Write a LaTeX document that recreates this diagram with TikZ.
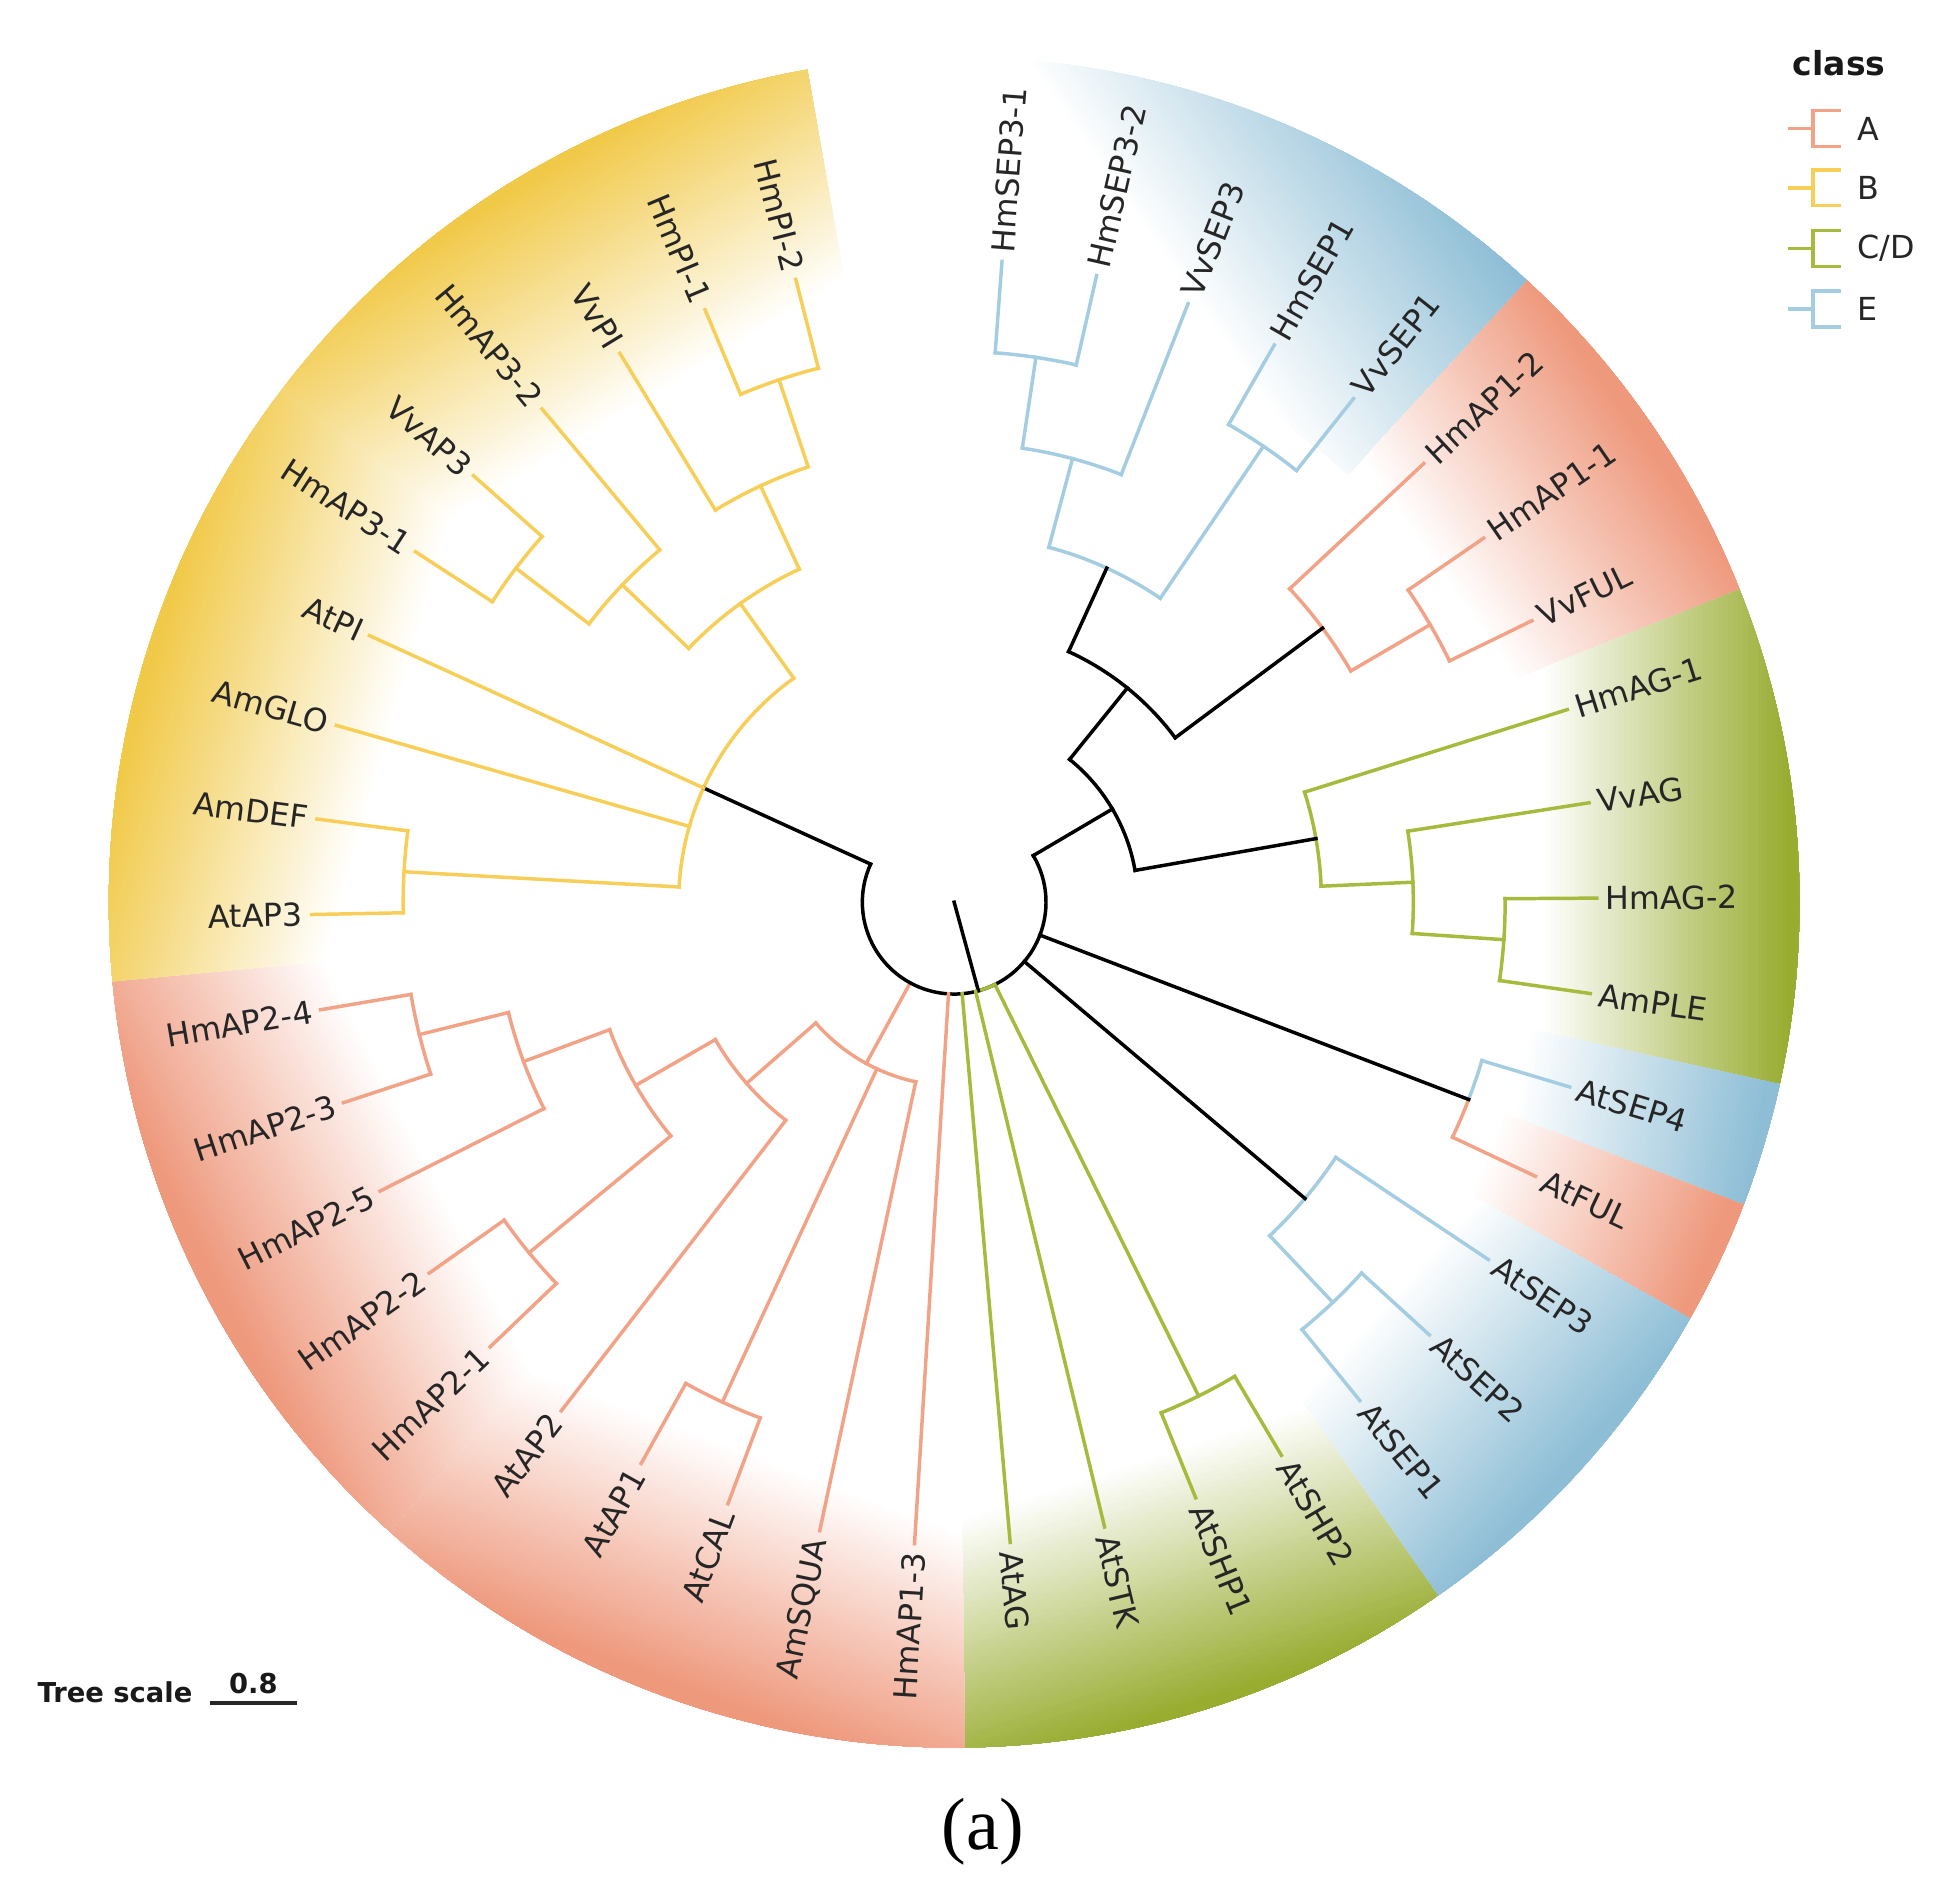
\documentclass[tikz,border=0pt]{standalone}
\usepackage{fontspec}
\setmainfont{DejaVu Sans}
\newfontfamily\capfont{Liberation Serif}

% branch colours of the four classes
\definecolor{classA}{RGB}{242,163,135}
\definecolor{classB}{RGB}{246,206,88}
\definecolor{classCD}{RGB}{166,186,62}
\definecolor{classE}{RGB}{164,205,226}
% colours of the outer ranges
\definecolor{ringA}{RGB}{238,152,124}
\definecolor{ringB}{RGB}{241,201,72}
\definecolor{ringCD}{RGB}{152,172,48}
\definecolor{ringE}{RGB}{142,190,214}

\tikzset{
  branch/.style={line width=0.8pt, line cap=rect},
  leaf/.style={font=\fontsize{7.3}{8}\selectfont, text=black!85, inner sep=1.8pt},
  legtitle/.style={font=\bfseries\fontsize{7.6}{9}\selectfont, text=black!90},
  legitem/.style={font=\fontsize{7.3}{8}\selectfont, text=black!85, anchor=west, inner sep=0pt},
  scalelab/.style={font=\bfseries\fontsize{6.3}{7}\selectfont, text=black!90}
}

\newcommand{\lev}{74.3}
% radial piece of a branch: colour, angle, from level, to level
\newcommand{\radial}[4]{\draw[branch,color=#1] (#2:{#3*\lev}) -- (#2:{#4*\lev});}
% arc of an inner node: colour, level, from angle, to angle
\newcommand{\nodearc}[4]{\draw[branch,color=#1] (#3:{#2*\lev}) arc[start angle=#3, end angle=#4, radius={#2*\lev}];}
% coloured range fading to white: colour, from angle, to angle, direction, start, end
\newcommand{\band}[6]{%
  \begin{scope}
    \clip (#2:470) arc[start angle=#2, end angle=#3, radius=470] -- (#3:684)
      arc[start angle=#3, end angle=#2, radius=684] -- cycle;
    \begin{scope}[rotate=#4]
      \foreach \bandi in {1,...,50}{
        \pgfmathsetmacro\bx{#5+(#6-#5)*(\bandi-1)/50}
        \pgfmathsetmacro\bp{100*\bandi/50}
        \fill[#1!\bp!white] (\bx,-720) rectangle (760,720);
      }
    \end{scope}
  \end{scope}}
\newcommand{\legentry}[3]{%
  \draw[branch,color=#1] (1448,#2) -- (1467,#2) (1488,#2+14.5) -- (1467,#2+14.5) -- (1467,#2-14.5) -- (1488,#2-14.5);
  \node[legitem] (leg#3) at (1502,#2) {#3};}

\begin{document}
\begin{tikzpicture}[x=0.01cm,y=0.01cm]
\useasboundingbox (0,0) rectangle (1568,1528);

\begin{scope}[shift={(772,798)}]
  % ranges
  \band{ringE}{90}{47.317}{35}{440}{665}
  \band{ringA}{47.317}{21.707}{35}{478}{675}
  \band{ringCD}{21.707}{-12.439}{0}{478}{678}
  \band{ringE}{-12.439}{-20.976}{-10}{478}{675}
  \band{ringA}{-20.976}{-29.512}{-22}{478}{675}
  \band{ringE}{-29.512}{-55.122}{-42}{478}{675}
  \band{ringCD}{-55.122}{-89.268}{-72}{478}{680}
  \band{ringA}{-89.268}{-131.951}{-110.61}{478}{675}
  \band{ringA}{-131.951}{-174.634}{-153.29}{478}{675}
  \band{ringB}{-174.634}{-217.317}{-195.98}{478}{680}
  \band{ringB}{-217.317}{-260}{-238.66}{478}{680}

  % class E, top
  \nodearc{classE}{6}{85.732}{77.195}
  \radial{classE}{81.463}{5}{6}
  \nodearc{classE}{5}{81.463}{68.659}
  \radial{classE}{75.061}{4}{5}
  \nodearc{classE}{6}{60.122}{51.585}
  \radial{classE}{55.854}{4}{6}
  \nodearc{classE}{4}{75.061}{55.854}
  \radial{black}{65.457}{3}{4}
  % class A, right
  \nodearc{classA}{6}{34.512}{25.976}
  \radial{classA}{30.244}{5}{6}
  \nodearc{classA}{5}{43.049}{30.244}
  \radial{black}{36.646}{3}{5}
  \nodearc{black}{3}{65.457}{36.646}
  \radial{black}{51.052}{2}{3}
  % class C/D, right
  \nodearc{classCD}{6}{0.366}{-8.171}
  \radial{classCD}{-3.902}{5}{6}
  \nodearc{classCD}{5}{8.902}{-3.902}
  \radial{classCD}{2.5}{4}{5}
  \nodearc{classCD}{4}{17.439}{2.5}
  \radial{black}{9.970}{2}{4}
  \nodearc{black}{2}{51.052}{9.970}
  \radial{black}{30.511}{1}{2}
  % AtSEP4 / AtFUL
  \nodearc{classE}{6}{-20.976}{-16.707}
  \nodearc{classA}{6}{-20.976}{-25.244}
  \radial{black}{-20.976}{1}{6}
  % AtSEP1-3
  \nodearc{classE}{6}{-42.317}{-50.854}
  \radial{classE}{-46.585}{5}{6}
  \nodearc{classE}{5}{-33.780}{-46.585}
  \radial{black}{-40.183}{1}{5}
  % AtSHP
  \nodearc{classCD}{6}{-59.390}{-67.927}
  \radial{classCD}{-63.659}{1}{6}
  % class A, left
  \nodearc{classA}{6}{-110.610}{-119.146}
  \radial{classA}{-114.878}{2}{6}
  \nodearc{classA}{6}{-136.220}{-144.756}
  \radial{classA}{-140.488}{4}{6}
  \nodearc{classA}{6}{-161.829}{-170.366}
  \radial{classA}{-166.098}{5}{6}
  \nodearc{classA}{5}{-153.293}{-166.098}
  \radial{classA}{-159.695}{4}{5}
  \nodearc{classA}{4}{-140.488}{-159.695}
  \radial{classA}{-150.092}{3}{4}
  \nodearc{classA}{3}{-127.683}{-150.092}
  \radial{classA}{-138.887}{2}{3}
  \nodearc{classA}{2}{-102.073}{-138.887}
  \radial{classA}{-118.613}{1}{2}
  % class B
  \nodearc{classB}{6}{-178.902}{-187.439}
  \radial{classB}{-183.171}{3}{6}
  \nodearc{classB}{6}{-213.049}{-221.585}
  \radial{classB}{-217.317}{5}{6}
  \nodearc{classB}{5}{-217.317}{-230.122}
  \radial{classB}{-223.720}{4}{5}
  \nodearc{classB}{6}{-247.195}{-255.732}
  \radial{classB}{-251.463}{5}{6}
  \nodearc{classB}{5}{-238.659}{-251.463}
  \radial{classB}{-245.061}{4}{5}
  \nodearc{classB}{4}{-223.720}{-245.061}
  \radial{classB}{-234.390}{3}{4}
  \nodearc{classB}{3}{-183.171}{-234.390}
  \radial{black}{-204.512}{1}{3}
  % root
  \nodearc{black}{1}{30.511}{-204.512}
  \nodearc{classCD}{1}{-74.715}{-63.659}
  \coordinate (root) at (0,0);
  \draw[branch] (root) -- (-74.715:\lev);

  % leaves: label / level of parent / colour
  \foreach \lab/\lvl/\col [count=\i from 0] in {
      HmSEP3-1/6/classE, HmSEP3-2/6/classE, VvSEP3/5/classE, HmSEP1/6/classE, VvSEP1/6/classE,
      HmAP1-2/5/classA, HmAP1-1/6/classA, VvFUL/6/classA,
      HmAG-1/4/classCD, VvAG/5/classCD, HmAG-2/6/classCD, AmPLE/6/classCD,
      AtSEP4/6/classE, AtFUL/6/classA,
      AtSEP3/5/classE, AtSEP2/6/classE, AtSEP1/6/classE,
      AtSHP2/6/classCD, AtSHP1/6/classCD, AtSTK/1/classCD, AtAG/1/classCD,
      HmAP1-3/1/classA, AmSQUA/2/classA, AtCAL/6/classA, AtAP1/6/classA, AtAP2/3/classA,
      HmAP2-1/6/classA, HmAP2-2/6/classA, HmAP2-5/5/classA, HmAP2-3/6/classA, HmAP2-4/6/classA,
      AtAP3/6/classB, AmDEF/6/classB, AmGLO/3/classB, AtPI/3/classB, HmAP3-1/6/classB,
      VvAP3/6/classB, HmAP3-2/5/classB, VvPI/5/classB, HmPI-1/6/classB, HmPI-2/6/classB}{
    \pgfmathsetmacro\ang{90-(\i+0.5)*350/41}
    \draw[branch,color=\col] (\ang:{\lvl*\lev}) -- (\ang:520);
    \ifnum\i<21
      \node[leaf,anchor=west,rotate=\ang] (leaf\i) at (\ang:520) {\lab};
    \else
      \node[leaf,anchor=east,rotate=\ang+180] (leaf\i) at (\ang:520) {\lab};
    \fi
  }
\end{scope}

% legend
\node[legtitle] (legtitle) at (1488,1477) {class};
\legentry{classA}{1424}{A}
\legentry{classB}{1376}{B}
\legentry{classCD}{1327}{C/D}
\legentry{classE}{1278}{E}

% tree scale
\node[scalelab,anchor=west] (treescale) at (18,159) {Tree scale};
\coordinate (sbl) at (170,150);
\coordinate (sbr) at (240,150);
\draw[line width=1pt,black!85] (sbl) -- (sbr);
\node[scalelab] (scaleval) at (205,166) {0.8};

% panel mark
\node[font=\capfont\fontsize{17}{20}\selectfont] (panel) at (795,46) {(a)};
\end{tikzpicture}
\end{document}
